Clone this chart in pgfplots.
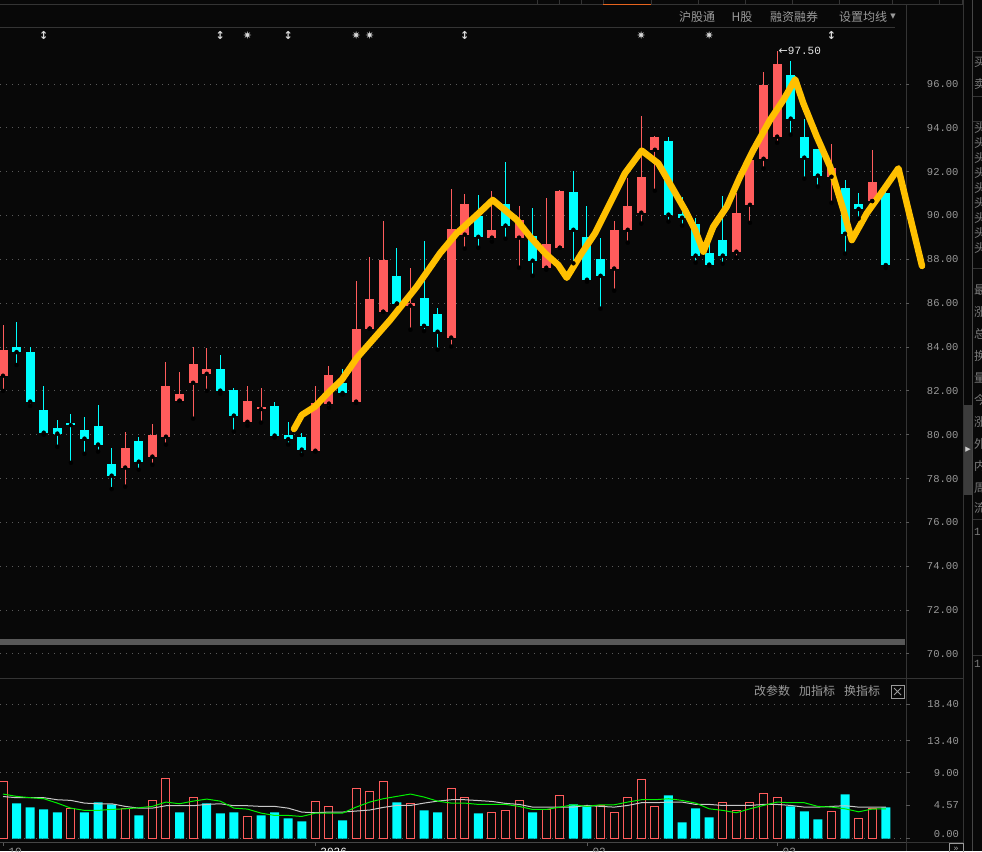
\documentclass[border=0pt]{standalone}
\usepackage{fontspec}
\setmainfont{DejaVu Sans}
\newfontfamily\cjk{Noto Sans CJK SC}
\newfontfamily\monof{Liberation Mono}
\newfontfamily\symf{DejaVu Sans}
\usepackage{pgfplots}
\usepackage{pgfplotstable}
\pgfplotsset{compat=1.18}
\definecolor{bgc}{HTML}{080808}
\definecolor{upc}{HTML}{FF5C5C}
\definecolor{dnc}{HTML}{00FFFF}
\definecolor{yel}{HTML}{FFC000}
\definecolor{gridc}{HTML}{5A5A5A}
\definecolor{tickc}{HTML}{9A9A9A}
\definecolor{linec}{HTML}{343434}
\definecolor{mawhite}{HTML}{C8C8C8}
\definecolor{magreen}{HTML}{00F000}

\pgfplotstableread{
i o h l c
0 82.69 85.00 82.00 83.86
9 78.50 80.12 77.63 79.39
11 79.00 80.49 78.63 79.99
12 79.91 83.32 79.55 82.22
13 81.55 82.86 81.55 81.86
14 82.37 84.00 80.73 83.23
15 82.78 83.96 82.00 83.00
18 80.59 82.22 80.41 81.54
19 81.17 82.13 80.55 81.26
23 79.27 82.22 79.23 81.45
24 81.42 83.14 81.23 82.72
26 81.51 87.01 81.45 84.82
27 84.84 88.11 84.84 86.19
28 85.61 89.75 85.61 87.97
30 85.89 87.61 84.79 86.00
33 84.43 91.21 84.02 89.39
34 89.13 90.98 88.49 90.53
36 88.99 91.12 88.81 89.34
38 88.99 90.43 87.62 89.81
40 87.62 90.80 87.53 88.70
41 88.53 91.16 88.53 91.12
45 87.58 89.75 86.57 89.34
46 89.35 91.71 88.76 90.43
47 90.13 94.54 89.63 91.76
48 93.00 93.63 91.13 93.58
54 88.35 91.04 88.08 90.13
55 90.49 92.55 89.67 92.55
56 92.59 96.56 92.14 95.97
57 93.60 97.50 93.32 96.93
61 91.77 93.26 90.58 92.18
64 90.66 92.99 90.66 91.53
}\upcandles

\pgfplotstableread{
i o h l c
1 84.00 85.14 83.18 83.77
2 83.77 84.00 81.31 81.51
3 81.13 82.22 80.00 80.09
4 80.31 80.67 79.45 80.05
5 80.53 80.95 78.72 80.44
6 80.22 80.81 79.13 79.82
7 80.40 81.36 79.23 79.55
8 78.66 79.39 77.52 78.13
10 79.71 79.90 78.40 78.77
16 83.00 83.64 81.87 82.01
17 82.04 82.13 80.14 80.87
20 81.31 81.49 79.87 79.96
21 79.99 80.58 79.55 79.80
22 79.90 80.08 79.09 79.32
25 82.36 83.00 81.83 81.90
29 87.24 88.52 85.98 85.98
31 86.24 88.84 84.73 84.97
32 85.51 85.78 83.88 84.70
35 89.98 90.94 88.53 89.03
37 90.53 92.44 88.94 89.54
39 89.07 90.34 87.25 87.94
42 91.07 92.03 87.82 89.35
43 89.02 90.43 86.98 87.07
44 88.02 88.97 85.75 87.25
49 93.40 93.58 89.72 90.04
50 90.07 90.84 89.54 89.90
51 89.61 89.89 87.85 88.17
52 88.31 89.42 87.71 87.76
53 88.88 90.90 87.80 88.17
58 96.42 97.05 93.69 94.42
59 93.57 94.42 91.68 92.64
60 93.02 93.05 91.32 91.82
62 91.27 91.64 88.26 89.17
63 90.53 91.01 89.86 90.30
65 91.03 91.53 87.61 87.74
}\dncandles

\pgfplotstableread{
i v
0 7.83
5 4.12
9 4.12
11 5.22
12 8.24
14 5.63
18 3.02
23 5.08
24 4.40
26 6.87
27 6.46
28 7.83
30 4.81
33 6.87
34 5.63
36 3.57
37 3.85
38 5.22
40 3.98
41 5.91
44 4.53
45 3.57
46 5.63
47 8.10
48 4.40
53 4.95
54 3.85
55 4.95
56 6.18
57 5.63
61 3.71
63 2.75
64 4.12
}\upvol

\pgfplotstableread{
i v
1 4.81
2 4.26
3 3.98
4 3.57
6 3.57
7 4.95
8 4.67
10 3.16
13 3.57
15 4.81
16 3.43
17 3.57
19 3.16
20 3.57
21 2.75
22 2.34
25 2.47
29 4.95
31 3.85
32 3.57
35 3.43
39 3.57
42 4.67
43 4.40
49 5.91
50 2.20
51 4.12
52 2.88
58 4.40
59 3.71
60 2.61
62 6.04
65 4.26
}\dnvol

\pgfplotstableread{
i w g
0 5.75 6.09
1 5.59 5.77
2 5.59 5.59
3 5.59 5.45
4 5.31 4.85
5 5.22 4.16
6 4.85 3.85
7 4.76 3.85
8 4.76 3.99
9 4.40 4.07
10 4.16 4.21
11 4.16 4.40
12 4.49 4.99
13 4.49 4.76
14 4.49 5.12
15 4.67 5.40
16 4.76 5.12
17 4.49 4.16
18 4.49 4.03
19 4.40 3.48
20 4.40 3.16
21 4.16 3.16
22 3.62 3.02
23 3.53 3.48
24 3.62 3.48
25 3.62 3.48
26 3.76 4.30
27 3.90 4.99
28 4.26 5.45
29 4.53 5.77
30 4.53 6.09
31 4.85 5.68
32 5.12 5.12
33 5.31 4.85
34 5.31 4.85
35 5.20 4.67
36 5.08 4.67
37 4.81 4.67
38 4.67 4.40
39 4.30 3.98
40 4.30 3.98
41 4.30 4.30
42 4.30 4.62
43 4.53 4.40
44 4.40 4.62
45 4.30 4.62
46 4.53 4.99
47 4.90 5.31
48 4.90 5.31
49 4.99 5.45
50 4.99 5.22
51 4.67 4.85
52 4.67 4.07
53 4.53 3.85
54 4.53 3.53
55 4.53 4.07
56 4.67 4.53
57 4.67 4.99
58 4.53 4.90
59 4.30 4.90
60 4.30 4.40
61 4.40 4.30
62 4.49 4.07
63 4.30 3.66
64 4.30 4.03
65 4.30 4.07
}\mavol

\begin{document}
\begin{tikzpicture}[x=1pt,y=1pt]
% background
\fill[bgc] (0,0) rectangle (982,-851);
\coordinate (Ptop) at (0,-28);
\coordinate (Vtop) at (0,-680);
% top tab strip
\draw[linec, line width=1pt] (0,-5) -- (963,-5);
\foreach \xx in {537,559,581,603,651,698,745,792,839,892,939,962}
  \draw[linec, line width=1pt] (\xx,0) -- (\xx,-5);
\draw[color={rgb,255:red,230;green,100;blue,30}, line width=1.5pt] (603,-4.5) -- (651,-4.5);
\draw[linec, line width=1pt] (0,-27.5) -- (895,-27.5);
% header text
\begin{scope}[every node/.style={text=tickc, font=\cjk\fontsize{12}{12}\selectfont, inner sep=0pt}]
\node at (697,-17) {沪股通};
\node at (742,-17) {H股};
\node at (794,-17) {融资融券};
\node at (863,-17) {设置均线};
\node[font=\symf\fontsize{7}{7}\selectfont] at (893,-17) {▼};
\node at (772,-691) {改参数};
\node at (817,-691) {加指标};
\node at (862,-691) {换指标};
\end{scope}
\draw[tickc, line width=0.8pt] (891,-685) rectangle (904,-698);
\draw[tickc, line width=0.8pt] (894,-688) -- (901,-695) (901,-688) -- (894,-695);
% scroll bar in price panel
\fill[color={rgb,255:red,88;green,88;blue,88}] (0,-639) rectangle (905,-645);
% panel separators
\draw[linec, line width=1.2pt] (0,-678.5) -- (963,-678.5);
\draw[linec, line width=1pt] (906,-5) -- (906,-851);
\draw[linec, line width=1pt] (963,0) -- (963,-851);
\draw[color={rgb,255:red,70;green,70;blue,70}, line width=1pt] (972.5,0) -- (972.5,-851);
\draw[linec, line width=1pt] (906,-842) -- (963,-842);
\fill[color={rgb,255:red,60;green,60;blue,60}] (964,-405) rectangle (972,-495);
\node[text=white!80!black, font=\symf\fontsize{7}{7}\selectfont, inner sep=0pt] at (968,-450) {▶};
% right cut panel
\draw[linec, line width=1pt] (972.5,-52) -- (982,-52) (972.5,-96) -- (982,-96) (972.5,-121) -- (982,-121) (972.5,-268) -- (982,-268) (972.5,-519) -- (982,-519) (972.5,-655) -- (982,-655);
\begin{scope}[every node/.style={text=tickc!80!black, font=\cjk\fontsize{12}{12}\selectfont, inner sep=0pt, anchor=west}]
\node at (974,-62) {买};
\node at (974,-84) {卖};
\foreach \k [count=\n] in {头,头,头,头,头,头,头,头,头}
  \node at (974,{-128-(\n-1)*15}) {\k};
\node at (974,-290) {最};
\node at (974,-312) {涨};
\node at (974,-334) {总};
\node at (974,-356) {换};
\node at (974,-378) {量};
\node at (974,-400) {今};
\node at (974,-422) {涨};
\node at (974,-444) {外};
\node at (974,-466) {内};
\node at (974,-488) {周};
\node at (974,-508) {流};
\node[font=\monof\fontsize{11}{11}\selectfont] at (974,-532) {1};
\node[font=\monof\fontsize{11}{11}\selectfont] at (974,-664) {1};
\end{scope}
\draw[tickc, line width=0.8pt] (949,-843) rectangle (963,-856);
\node[text=tickc, font=\symf\fontsize{9}{9}\selectfont, inner sep=0pt] at (956,-849) {»};

% ================= PRICE PANEL =================
\begin{axis}[
  at={(Ptop)}, anchor=north west, scale only axis,
  width=906pt, height=650pt,
  xmin=-0.221, xmax=66.49, ymin=68.90, ymax=98.555,
  clip=false,
  axis line style={draw=none},
  xtick=\empty,
  ytick={70,72,...,96},
  ytick pos=right, yticklabel pos=right,
  ymajorgrids,
  grid style={color=gridc, line width=1pt, dash pattern=on 1.2pt off 4.8pt},
  tick align=outside, major tick length=3pt,
  tick style={color=gridc, line width=0.8pt},
  yticklabel style={font=\monof\fontsize{10.5}{12}\selectfont, text=tickc, anchor=east, xshift=53pt},
  /pgf/number format/.cd, fixed, fixed zerofill, precision=2, assume math mode=true,
]
% wicks
\addplot[only marks, mark=none, error bars/.cd, y dir=plus, y explicit, error mark=none,
  error bar style={draw=upc, line width=1pt}]
  table[x=i, y=l, y error expr=\thisrow{h}-\thisrow{l}] {\upcandles};
\addplot[only marks, mark=none, error bars/.cd, y dir=plus, y explicit, error mark=none,
  error bar style={draw=dnc, line width=1pt}]
  table[x=i, y=l, y error expr=\thisrow{h}-\thisrow{l}] {\dncandles};
% bodies
\addplot[only marks, mark=none, error bars/.cd, y dir=plus, y explicit, error mark=none,
  error bar style={draw=upc, line width=9pt}]
  table[x=i, y=o, y error expr={max(\thisrow{c}-\thisrow{o},0.09)}] {\upcandles};
\addplot[only marks, mark=none, error bars/.cd, y dir=plus, y explicit, error mark=none,
  error bar style={draw=dnc, line width=9pt}]
  table[x=i, y=c, y error expr={max(\thisrow{o}-\thisrow{c},0.09)}] {\dncandles};
% hand-drawn yellow line
\addplot[color=yel, line width=6.5pt, line join=round, line cap=round, mark=none] coordinates {
(21.43,80.26) (22.0,80.9) (22.97,81.28) (23.95,81.92) (24.94,82.5) (26.05,83.5)
(28.5,85.23) (30.46,86.75) (32.18,88.28) (33.41,89.19) (34.88,90.02) (36.06,90.71)
(37.83,89.80) (38.81,89.03) (39.91,88.28) (40.89,87.74) (41.51,87.16) (42.61,88.28)
(43.59,89.19) (44.57,90.40) (45.80,91.93) (47.03,92.96) (48.25,92.38) (49.24,91.31)
(50.22,90.25) (50.96,89.34) (51.57,88.35) (52.30,89.49) (53.29,90.40) (54.27,91.77)
(55.25,92.99) (56.48,94.36) (57.46,95.27) (58.33,96.21) (58.93,95.12) (59.92,93.60)
(60.90,92.23) (61.88,90.25) (62.50,88.88) (63.60,90.10) (64.82,91.16) (65.93,92.15)
(66.55,90.55) (67.67,87.70)};
% high marker
\node[anchor=west, inner sep=0pt, text=white!90!black, font=\monof\fontsize{11}{11}\selectfont] at (axis cs:57.1,97.5) {{\symf ←}97.50};
% event markers
\begin{scope}[every node/.style={text=white!85!black, inner sep=0pt, font=\symf\bfseries\fontsize{11}{11}\selectfont}]
\node at (axis cs:3,98.235) {↕};
\node at (axis cs:16,98.235) {↕};
\node at (axis cs:18,98.235) {✷};
\node at (axis cs:21,98.235) {↕};
\node at (axis cs:26,98.235) {✷};
\node at (axis cs:27,98.235) {✷};
\node at (axis cs:34,98.235) {↕};
\node at (axis cs:47,98.235) {✷};
\node at (axis cs:52,98.235) {✷};
\node at (axis cs:61,98.235) {↕};
\end{scope}
\end{axis}

% ================= VOLUME PANEL =================
\begin{axis}[
  at={(Vtop)}, anchor=north west, scale only axis,
  width=906pt, height=162pt,
  xmin=-0.221, xmax=66.49, ymin=-0.479, ymax=21.71,
  axis line style={draw=none},
  ytick={0,9,13.4,18.4},
  yticklabels={\raisebox{9pt}{0.00},9.00,13.40,18.40},
  extra y ticks={4.57}, extra y tick labels={4.57},
  extra y tick style={grid=none},
  ytick pos=right, yticklabel pos=right,
  xtick={0,22.97,43,57},
  xticklabels={\textcolor{tickc}{10},\textcolor{white}{2026},\textcolor{tickc}{02},\textcolor{tickc}{03}},
  xtick pos=bottom,
  xticklabel style={anchor=north west, xshift=2pt, yshift=1pt, font=\monof\fontsize{11}{12}\selectfont},
  ymajorgrids,
  grid style={color=gridc, line width=1pt, dash pattern=on 1.2pt off 4.8pt},
  tick align=outside, major tick length=3.5pt,
  tick style={color=gridc, line width=0.8pt},
  yticklabel style={font=\monof\fontsize{10.5}{12}\selectfont, text=tickc, anchor=east, xshift=53pt},
]
\addplot[ybar, bar width=8pt, bar shift=0pt, draw=upc, fill=bgc, line width=1pt] table[x=i, y=v] {\upvol};
\addplot[ybar, bar width=9pt, bar shift=0pt, draw=none, fill=dnc] table[x=i, y=v] {\dnvol};
\addplot[color=mawhite, line width=1pt, mark=none] table[x=i, y=w] {\mavol};
\addplot[color=magreen, line width=1pt, mark=none] table[x=i, y=g] {\mavol};
\end{axis}
\draw[color={rgb,255:red,70;green,70;blue,70}, line width=1pt] (0,-842) -- (906,-842);

\pgfresetboundingbox
\path[use as bounding box] (0,0) rectangle (982,-851);
\end{tikzpicture}
\end{document}
